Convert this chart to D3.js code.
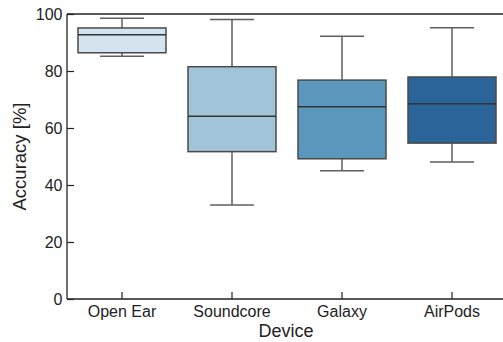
<!DOCTYPE html>
<html>
<head>
<meta charset="utf-8">
<script src="https://cdn.jsdelivr.net/npm/d3@7"></script>
<style>
  html, body { margin: 0; padding: 0; background: #fff; }
  svg { display: block; font-family: "Liberation Sans", Arial, sans-serif; }
</style>
</head>
<body>
<svg id="chart" width="503" height="342"></svg>
<script>
// Accuracy distribution per device (box-plot summary statistics)
const devices = ["Open Ear", "Soundcore", "Galaxy", "AirPods"];
const whiskerLow  = [85.2, 33.0, 45.0, 48.1];
const q1          = [86.4, 51.7, 49.2, 54.7];
const median      = [92.7, 64.1, 67.5, 68.5];
const q3          = [95.1, 81.5, 76.8, 77.9];
const whiskerHigh = [98.5, 98.1, 92.2, 95.2];
const boxColors   = ["#d4e3f0", "#a1c4d8", "#5b96bc", "#2b6499"];
const yTicks      = [0, 20, 40, 60, 80, 100];

const svg = d3.select("#chart");
const margin = { top: 14, right: -4, bottom: 43, left: 67 };
const width = 503 - margin.left - margin.right;
const height = 342 - margin.top - margin.bottom;

const g = svg.append("g").attr("transform", `translate(${margin.left},${margin.top})`);

const x = d3.scaleBand().domain(devices).range([0, width]).paddingInner(0).paddingOuter(0);
const y = d3.scaleLinear().domain([0, 100]).range([height, 0]);

const boxW = x.bandwidth() * 0.8;
const capW = boxW * 0.5;
const lineColor = "#5e5e5e";
const boxStroke = "#4a4a4a";

const data = devices.map((d, i) => ({
  device: d, lo: whiskerLow[i], q1: q1[i], med: median[i], q3: q3[i], hi: whiskerHigh[i], color: boxColors[i]
}));

const boxes = g.selectAll(".box").data(data).join("g")
  .attr("class", "box")
  .attr("transform", d => `translate(${x(d.device) + x.bandwidth() / 2},0)`);

// whiskers
boxes.append("line").attr("x1", 0).attr("x2", 0)
  .attr("y1", d => y(d.hi)).attr("y2", d => y(d.q3))
  .attr("stroke", lineColor).attr("stroke-width", 1.5);
boxes.append("line").attr("x1", 0).attr("x2", 0)
  .attr("y1", d => y(d.q1)).attr("y2", d => y(d.lo))
  .attr("stroke", lineColor).attr("stroke-width", 1.5);
// caps
boxes.append("line").attr("x1", -capW / 2).attr("x2", capW / 2)
  .attr("y1", d => y(d.hi)).attr("y2", d => y(d.hi))
  .attr("stroke", lineColor).attr("stroke-width", 1.5);
boxes.append("line").attr("x1", -capW / 2).attr("x2", capW / 2)
  .attr("y1", d => y(d.lo)).attr("y2", d => y(d.lo))
  .attr("stroke", lineColor).attr("stroke-width", 1.5);
// box
boxes.append("rect")
  .attr("x", -boxW / 2).attr("width", boxW)
  .attr("y", d => y(d.q3)).attr("height", d => y(d.q1) - y(d.q3))
  .attr("fill", d => d.color).attr("stroke", boxStroke).attr("stroke-width", 1.5);
// median
boxes.append("line").attr("x1", -boxW / 2).attr("x2", boxW / 2)
  .attr("y1", d => y(d.med)).attr("y2", d => y(d.med))
  .attr("stroke", "#333").attr("stroke-width", 1.5);

// axes with inward-pointing ticks
const yAxis = g.append("g")
  .call(d3.axisLeft(y).tickValues(yTicks).tickSizeInner(-7).tickSizeOuter(0).tickPadding(4.5));
const xAxis = g.append("g").attr("transform", `translate(0,${height})`)
  .call(d3.axisBottom(x).tickSizeInner(-7).tickSizeOuter(0).tickPadding(6.6));

[yAxis, xAxis].forEach(a => {
  a.select(".domain").attr("stroke", "#222").attr("stroke-width", 1.3);
  a.selectAll(".tick line").attr("stroke", "#222").attr("stroke-width", 1.2);
  a.selectAll(".tick text").attr("fill", "#222").style("font-size", "16px")
    .style("font-family", "'Liberation Sans', Arial, sans-serif");
});
yAxis.select(".domain").attr("d", `M0,${height}V0`);
xAxis.select(".domain").attr("d", `M0,0H${width}`);

// top spine
g.append("line").attr("x1", 0).attr("x2", width).attr("y1", 0).attr("y2", 0)
  .attr("stroke", "#222").attr("stroke-width", 1.3);

// axis titles
svg.append("text")
  .attr("transform", `translate(26,${margin.top + height / 2}) rotate(-90)`)
  .attr("text-anchor", "middle").attr("fill", "#222")
  .style("font-size", "18.5px")
  .text("Accuracy [%]");
svg.append("text")
  .attr("x", 286).attr("y", 337)
  .attr("text-anchor", "middle").attr("fill", "#222")
  .style("font-size", "18px")
  .text("Device");
</script>
</body>
</html>
